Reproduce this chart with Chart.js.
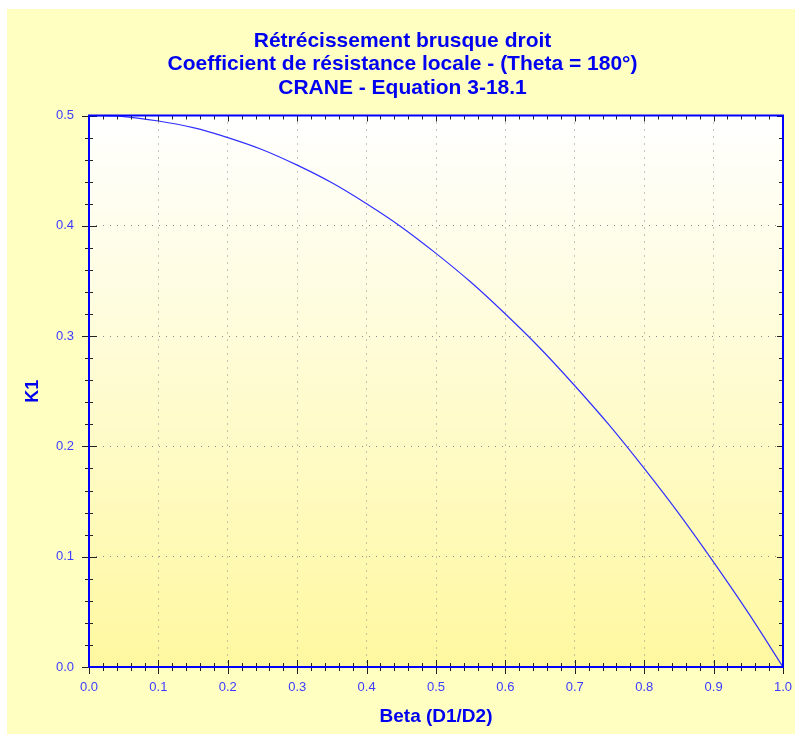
<!DOCTYPE html>
<html>
<head>
<meta charset="utf-8">
<script src="https://cdn.jsdelivr.net/npm/chart.js@4.4.1/dist/chart.umd.min.js"></script>
<style>
    body { margin: 0; background: #fff; }
    canvas { display: block; }
</style>
</head>
<body>
<canvas id="k1Chart" width="795" height="734"></canvas>
<script>
// Values
const beta = [0, 0.05, 0.1, 0.15, 0.2, 0.25, 0.3, 0.35, 0.4, 0.45, 0.5,
              0.55, 0.6, 0.65, 0.7, 0.75, 0.8, 0.85, 0.9, 0.95, 1.0];
const k1 = [0.5, 0.499, 0.495, 0.489, 0.48, 0.469, 0.455, 0.439, 0.42, 0.399, 0.375,
            0.349, 0.32, 0.289, 0.255, 0.219, 0.18, 0.139, 0.095, 0.049, 0.0];
const titleLines = [
    'Rétrécissement brusque droit',
    'Coefficient de résistance locale - (Theta = 180°)',
    'CRANE - Equation 3-18.1'
];
const xTitle = 'Beta (D1/D2)';
const yTitle = 'K1';

const blue = '#0000f0';
const tickBlue = '#3c3cff';
const fontFamily = 'Liberation Sans, Arial, sans-serif';

// page background + gradient inside plot area
const backgroundPlugin = {
    id: 'background',
    beforeDraw(chart) {
        const ctx = chart.ctx;
        const area = chart.chartArea;
        ctx.save();
        ctx.fillStyle = '#ffffff';
        ctx.fillRect(0, 0, chart.width, chart.height);
        ctx.fillStyle = '#ffffc2';
        ctx.fillRect(7, 9, chart.width - 7, chart.height - 9);
        const grad = ctx.createLinearGradient(0, area.top, 0, area.bottom);
        grad.addColorStop(0, '#ffffff');
        grad.addColorStop(1, '#fff8a0');
        ctx.fillStyle = grad;
        ctx.fillRect(area.left, area.top, area.right - area.left, area.bottom - area.top);
        ctx.restore();
    }
};

// blue frame and major/minor tick marks on the four sides (minor every 1/5 of a major step)
const framePlugin = {
    id: 'frame',
    afterDraw(chart) {
        const ctx = chart.ctx;
        const area = chart.chartArea;
        const xs = chart.scales.x;
        const ys = chart.scales.y;
        ctx.save();
        ctx.strokeStyle = '#222';
        ctx.lineWidth = 1;
        ctx.beginPath();
        for (let i = 0; i <= 50; i++) {
            const major = i % 5 === 0;
            const px = Math.round(xs.getPixelForValue(i * 0.02)) + 0.5;
            ctx.moveTo(px, area.bottom - (major ? 7 : 4));
            ctx.lineTo(px, area.bottom + (major ? 7 : 4));
            ctx.moveTo(px, area.top);
            ctx.lineTo(px, area.top + (major ? 6 : 4));
        }
        for (let i = 0; i <= 25; i++) {
            const major = i % 5 === 0;
            const py = Math.round(ys.getPixelForValue(i * 0.02)) + 0.5;
            ctx.moveTo(area.left - (major ? 7 : 4), py);
            ctx.lineTo(area.left + (major ? 8 : 4), py);
            ctx.moveTo(area.right, py);
            ctx.lineTo(area.right - (major ? 6 : 4), py);
        }
        ctx.stroke();
        ctx.strokeStyle = '#0000ff';
        ctx.lineWidth = 2;
        ctx.strokeRect(area.left, area.top, area.right - area.left, area.bottom - area.top);
        ctx.restore();
    }
};

const ctx = document.getElementById('k1Chart').getContext('2d');
new Chart(ctx, {
    type: 'line',
    data: {
        datasets: [{
            data: beta.map((b, i) => ({ x: b, y: k1[i] })),
            borderColor: '#3030ff',
            borderWidth: 1.2,
            pointRadius: 0,
            fill: false,
            cubicInterpolationMode: 'monotone'
        }]
    },
    options: {
        responsive: false,
        animation: false,
        layout: {
            padding: { left: 22, right: 12, top: 0, bottom: 0 }
        },
        plugins: {
            legend: { display: false },
            tooltip: { enabled: false },
            title: {
                display: true,
                text: titleLines,
                color: blue,
                font: { family: fontFamily, size: 21, weight: 'bold', lineHeight: '23.5px' },
                padding: { top: 29, bottom: 16 }
            }
        },
        scales: {
            x: {
                type: 'linear',
                min: 0,
                max: 1,
                afterFit(scale) {
                    scale.height = 67;
                    scale.paddingLeft = 0;
                    scale.paddingRight = 0;
                },
                ticks: {
                    stepSize: 0.1,
                    padding: 13,
                    color: tickBlue,
                    font: { family: fontFamily, size: 13 },
                    callback: v => v.toFixed(1)
                },
                grid: {
                    drawTicks: false,
                    color: '#8a8a8a',
                    lineWidth: 1
                },
                border: { display: false, dash: [1, 6] },
                title: {
                    display: true,
                    text: xTitle,
                    color: blue,
                    font: { family: fontFamily, size: 19, weight: 'bold' },
                    padding: { top: 0, bottom: 6 }
                }
            },
            y: {
                min: 0,
                max: 0.5,
                afterFit(scale) {
                    scale.width = 67;
                    scale.paddingTop = 0;
                    scale.paddingBottom = 0;
                },
                ticks: {
                    stepSize: 0.1,
                    padding: 15,
                    color: tickBlue,
                    font: { family: fontFamily, size: 13 },
                    callback: v => v.toFixed(1)
                },
                grid: {
                    drawTicks: false,
                    color: '#8a8a8a',
                    lineWidth: 1
                },
                border: { display: false, dash: [1, 6] },
                title: {
                    display: true,
                    text: yTitle,
                    color: blue,
                    font: { family: fontFamily, size: 18, weight: 'bold' },
                    padding: { top: 0, bottom: 0 }
                }
            }
        }
    },
    plugins: [backgroundPlugin, framePlugin]
});
</script>
</body>
</html>
